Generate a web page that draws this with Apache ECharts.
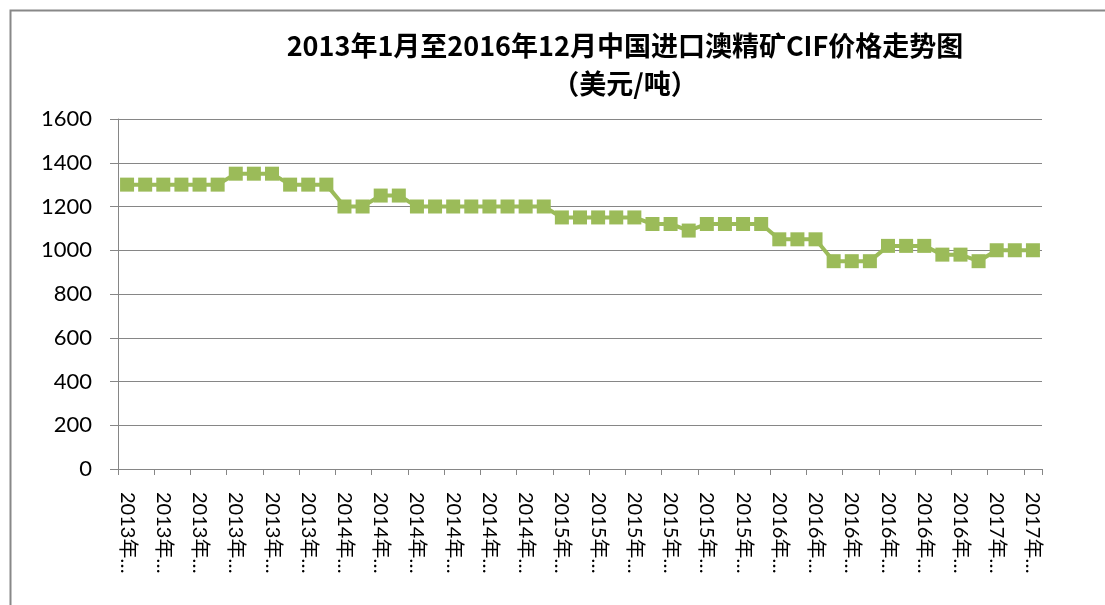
<!DOCTYPE html>
<html>
<head>
<meta charset="utf-8">
<script src="https://cdn.jsdelivr.net/npm/echarts@6/dist/echarts.min.js"></script>
<style>
html,body{margin:0;padding:0;background:#fff;}
#c{width:1105px;height:605px;}
</style>
</head>
<body>
<div id="c"></div>
<script>
// Categories: monthly, 2013年1月 .. 2017年3月 (51 points)
var years = ['2013','2014','2015','2016','2017'];
var categories = [];
for (var y = 0; y < years.length; y++) {
  for (var m = 1; m <= 12; m++) {
    if (years[y] === '2017' && m > 3) break;
    categories.push(years[y] + '年' + m + '月');
  }
}
var prices = [
  1300,1300,1300,1300,1300,1300,
  1350,1350,1350,
  1300,1300,1300,
  1200,1200,
  1250,1250,
  1200,1200,1200,1200,1200,1200,1200,1200,
  1150,1150,1150,1150,1150,
  1120,1120,
  1090,
  1120,1120,1120,1120,
  1050,1050,1050,
  950,950,950,
  1020,1020,1020,
  980,980,
  950,
  1000,1000,1000
];
var yTicks = {min: 0, max: 1600, interval: 200};
var titleText = '2013年1月至2016年12月中国进口澳精矿CIF价格走势图';
var subText = '（美元/吨）';

var chart = echarts.init(document.getElementById('c'));
chart.setOption({
  animation: false,
  backgroundColor: '#fff',
  graphic: [
    {type: 'rect', left: 8, top: 8, shape: {x: 0, y: 0, width: 1200, height: 700},
     style: {fill: 'none', stroke: '#888', lineWidth: 2}, silent: true}
  ],
  title: {
    text: titleText + '\n' + subText,
    left: 620, top: 22, textAlign: 'center',
    textStyle: {fontFamily: '"Noto Sans CJK SC", sans-serif', fontWeight: 'bold', fontSize: 27, lineHeight: 38, color: '#000'}
  },
  grid: {left: 118, right: 63, top: 119, bottom: 136, containLabel: false},
  xAxis: {
    type: 'category',
    data: categories,
    boundaryGap: true,
    axisLine: {lineStyle: {color: '#868686', width: 1}},
    axisTick: {show: true, interval: 1, length: 6, lineStyle: {color: '#868686'}},
    axisLabel: {
      interval: 1, rotate: -90, margin: 23,
      fontFamily: 'Lato, "Noto Sans CJK SC", sans-serif', fontSize: 20, color: '#000',
      formatter: function (v) { return v.slice(0, 5) + '…'; }
    }
  },
  yAxis: {
    type: 'value',
    min: yTicks.min, max: yTicks.max, interval: yTicks.interval,
    axisLine: {show: true, lineStyle: {color: '#868686', width: 1}},
    axisTick: {show: true, length: 8, lineStyle: {color: '#868686'}},
    splitLine: {lineStyle: {color: '#868686', width: 1}},
    axisLabel: {margin: 26, fontFamily: 'Lato, sans-serif', fontSize: 22, color: '#000',
      formatter: function (v) { return String(v); }}
  },
  series: [{
    type: 'line',
    data: prices,
    symbol: 'rect',
    symbolSize: 14,
    showAllSymbol: true,
    lineStyle: {color: '#9BBB59', width: 4},
    itemStyle: {color: '#9BBB59', borderColor: '#9BBB59', borderWidth: 0},
    z: 3
  }]
});
</script>
</body>
</html>
